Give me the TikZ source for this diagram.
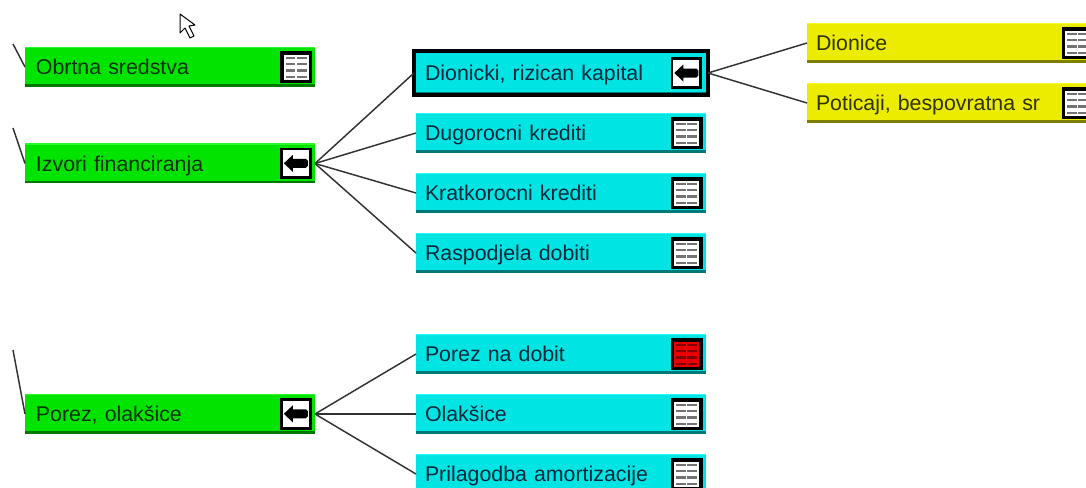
\documentclass[tikz,border=0pt]{standalone}
\usepackage{fontspec}
\setmainfont{Liberation Sans}
\definecolor{gfill}{RGB}{0,228,0}
\definecolor{gtop}{RGB}{40,250,40}
\definecolor{gdark}{RGB}{0,120,0}
\definecolor{gtext}{RGB}{0,50,0}
\definecolor{cfill}{RGB}{0,228,228}
\definecolor{ctop}{RGB}{40,250,250}
\definecolor{cdark}{RGB}{0,120,120}
\definecolor{ctext}{RGB}{0,40,60}
\definecolor{yfill}{RGB}{236,236,0}
\definecolor{ytop}{RGB}{250,250,40}
\definecolor{ydark}{RGB}{125,125,0}
\definecolor{ytext}{RGB}{50,50,0}
\definecolor{lnk}{RGB}{50,50,50}
\definecolor{tgray}{RGB}{115,115,115}
\definecolor{tred}{RGB}{232,0,0}
\definecolor{tdred}{RGB}{130,0,0}
\newcommand{\boxedges}[2]{%
  \fill[#1] ([yshift=2.2pt]path picture bounding box.south west) rectangle (path picture bounding box.south east);
  \fill[#2] ([yshift=-0.9pt]path picture bounding box.north west) rectangle (path picture bounding box.north east);
}
\newcommand{\tablebars}[1]{%
  \foreach \yy in {-9.5,-3.2,3.2,9.5}{
    \fill[#1] ([shift={(-10.5,\yy-1.1)}]path picture bounding box.center) rectangle ++(9.7,2.2);
    \fill[#1] ([shift={(0.8,\yy-1.1)}]path picture bounding box.center) rectangle ++(9.7,2.2);
  }
}
\tikzset{
  x=0.75pt,y=-0.75pt,
  boxbase/.style={rectangle,inner sep=0pt,outer sep=0pt,minimum width=217.5pt,minimum height=30pt,anchor=north west,
    text width=204pt,align=left,font=\fontsize{16}{18}\selectfont,text height=11.5pt,text depth=0pt},
  gbox/.style={boxbase,text width=201pt,fill=gfill,text=gtext,path picture={\boxedges{gdark}{gtop}}},
  cbox/.style={boxbase,fill=cfill,text=ctext,path picture={\boxedges{cdark}{ctop}}},
  ybox/.style={boxbase,fill=yfill,text=ytext,path picture={\boxedges{ydark}{ytop}}},
  selbox/.style={draw=black,line width=3pt,minimum width=220.5pt,minimum height=33pt,text width=204pt},
  iconbase/.style={rectangle,draw=black,line width=2.2pt,minimum size=21.5pt,inner sep=0pt,outer sep=0pt,anchor=north west},
  tableicon/.style={iconbase,line width=2.6pt,minimum size=21.2pt,fill=white,path picture={\tablebars{tgray}}},
  redicon/.style={iconbase,line width=2.6pt,minimum size=21.2pt,fill=tred,path picture={\tablebars{tdred}}},
  backicon/.style={iconbase,fill=white,path picture={
    \fill[black] ([xshift=-9pt]path picture bounding box.center) -- ++(9,-8.5) -- ++(0,4) -- ++(13,0) -- ++(2,2) -- ++(0,5) -- ++(-2,2) -- ++(-13,0) -- ++(0,4) -- cycle;}},
  link/.style={draw=lnk,line width=1.1pt},
  pointer/.style={fill=white,draw=black,line width=0.75pt,line join=round}
}
\begin{document}
\begin{tikzpicture}
\path[use as bounding box] (0,0) rectangle (1086,488);
\clip (0,0) rectangle (1086,488);

\coordinate (f1) at (13,44);
\coordinate (f2) at (13,128);
\coordinate (f3) at (13,350);

\node[gbox] (ob) at (25,47) {Obrtna sredstva};
\node[gbox] (iz) at (25,143.5) {Izvori financiranja};
\node[gbox] (po) at (25,394) {Porez, olakšice};

\node[cbox,selbox] (di) at (414,51) {Dionicki, rizican kapital};
\node[cbox] (du) at (416,113) {Dugorocni krediti};
\node[cbox] (kr) at (416,173) {Kratkorocni krediti};
\node[cbox] (ra) at (416,233) {Raspodjela dobiti};
\node[cbox] (pd) at (416,334) {Porez na dobit};
\node[cbox] (ol) at (416,394) {Olakšice};
\node[cbox] (pr) at (416,454) {Prilagodba amortizacije};

\node[ybox] (dn) at (807,23) {Dionice};
\node[ybox] (pt) at (807,83) {Poticaji, bespovratna sr};

\node[tableicon] (iob) at ([shift={(257,6.2)}]ob.north west) {};
\node[backicon] (iiz) at ([shift={(256.5,5.5)}]iz.north west) {};
\node[backicon] (ipo) at ([shift={(256.5,5.5)}]po.north west) {};
\node[backicon] (idi) at ([shift={(258,7.7)}]di.north west) {};
\node[tableicon] (idu) at ([shift={(256.5,6.2)}]du.north west) {};
\node[tableicon] (ikr) at ([shift={(256.5,6.2)}]kr.north west) {};
\node[tableicon] (ira) at ([shift={(256.5,6.2)}]ra.north west) {};
\node[redicon] (ipd) at ([shift={(256.5,6.2)}]pd.north west) {};
\node[tableicon] (iol) at ([shift={(256.5,6.2)}]ol.north west) {};
\node[tableicon] (ipr) at ([shift={(256.5,6.2)}]pr.north west) {};
\node[tableicon] (idn) at ([shift={(256.5,6.2)}]dn.north west) {};
\node[tableicon] (ipt) at ([shift={(256.5,6.2)}]pt.north west) {};

\draw[link] (f1) -- (ob.west);
\draw[link] (f2) -- (iz.west);
\draw[link] (f3) -- (po.west);
\draw[link] (iz.east) -- (di.west);
\draw[link] (iz.east) -- (du.west);
\draw[link] (iz.east) -- (kr.west);
\draw[link] (iz.east) -- (ra.west);
\draw[link] (po.east) -- (pd.west);
\draw[link] (po.east) -- (ol.west);
\draw[link] (po.east) -- (pr.west);
\draw[link] (di.east) -- (dn.west);
\draw[link] (di.east) -- (pt.west);

\draw[pointer] (180,14) -- (180,33) -- (185,28) -- (190,38) -- (194,36) -- (189,26) -- (195,25) -- cycle;
\end{tikzpicture}
\end{document}
